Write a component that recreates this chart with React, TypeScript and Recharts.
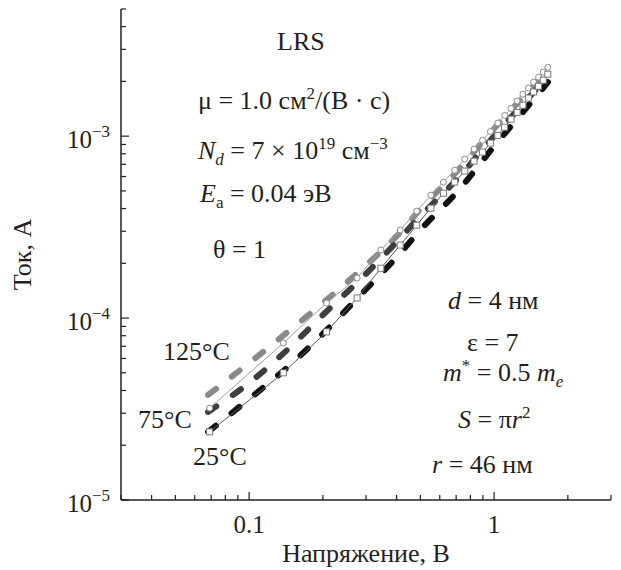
import React from 'react';
import { LineChart, Line, XAxis, YAxis } from 'recharts';

// measured points (linear voltage steps), V
const measuredV = [
  0.069, 0.138, 0.207, 0.276, 0.345, 0.414, 0.483, 0.552, 0.621, 0.69, 0.759, 0.828,
  0.897, 0.966, 1.035, 1.104, 1.173, 1.242, 1.311, 1.38, 1.449, 1.518, 1.587, 1.656,
];
// open circles
const circleI = [
  3.2e-5, 7.3e-5, 1.21e-4, 1.66e-4, 2.37e-4, 3.05e-4, 3.87e-4, 4.74e-4, 5.59e-4, 6.5e-4, 7.48e-4, 8.49e-4,
  9.5e-4, 1.06e-3, 1.18e-3, 1.3e-3, 1.42e-3, 1.56e-3, 1.7e-3, 1.84e-3, 1.98e-3, 2.11e-3, 2.25e-3, 2.39e-3,
];
// open squares
const squareI = [
  2.37e-5, 5.0e-5, 8.4e-5, 1.29e-4, 1.88e-4, 2.52e-4, 3.24e-4, 4.02e-4, 4.86e-4, 5.59e-4, 6.43e-4, 7.29e-4,
  8.17e-4, 9.16e-4, 1.01e-3, 1.12e-3, 1.24e-3, 1.35e-3, 1.48e-3, 1.62e-3, 1.75e-3, 1.88e-3, 2.03e-3, 2.19e-3,
];

// model curves (thick dashed)
const modelV = [0.068, 0.1, 0.15, 0.2, 0.3, 0.4, 0.5, 0.7, 1.0, 1.3, 1.66];
const model125 = [3.78e-5, 5.66e-5, 8.8e-5, 1.21e-4, 1.95e-4, 2.82e-4, 3.97e-4, 6.34e-4, 1.1e-3, 1.62e-3, 2.31e-3];
const model75 = [3.05e-5, 4.4e-5, 7.1e-5, 1.04e-4, 1.75e-4, 2.62e-4, 3.63e-4, 5.73e-4, 1.0e-3, 1.48e-3, 2.14e-3];
const model25 = [2.37e-5, 3.59e-5, 5.66e-5, 8.2e-5, 1.44e-4, 2.16e-4, 3.05e-4, 4.87e-4, 8.8e-4, 1.34e-3, 1.98e-3];

const xTicks = [
  0.03, 0.04, 0.05, 0.06, 0.07, 0.08, 0.09, 0.1, 0.2, 0.3, 0.4, 0.5, 0.6, 0.7, 0.8, 0.9, 1, 2, 3,
];
const xMajor = [0.1, 1];
const xMajorLabels = ['0.1', '1'];

const yTicks = [
  1e-5, 2e-5, 3e-5, 4e-5, 5e-5, 6e-5, 7e-5, 8e-5, 9e-5,
  1e-4, 2e-4, 3e-4, 4e-4, 5e-4, 6e-4, 7e-4, 8e-4, 9e-4,
  1e-3, 2e-3, 3e-3, 4e-3, 5e-3,
];
const yMajor = [1e-5, 1e-4, 1e-3];
const yMajorExp = ['\u22125', '\u22124', '\u22123'];

const ink = '#231f20';
const serif = "'Liberation Serif', 'DejaVu Serif', 'Times New Roman', serif";
const txt = { fontFamily: serif, fontSize: 26, fill: ink };
const tickTxt = { fontFamily: serif, fontSize: 25, fill: ink };

const toPoints = (xs: number[], ys: number[]) => xs.map((v, k) => ({ v, i: ys[k] }));
const same = (a: number, b: number) => Math.abs(a - b) / b < 1e-6;

const XTick = (props: any) => {
  const { x, y, payload } = props;
  const idx = xMajor.findIndex((m) => same(payload.value, m));
  const major = idx >= 0;
  return (
    <g>
      <line x1={x} y1={y} x2={x} y2={y - (major ? 8 : 5)} stroke={ink} strokeWidth={1.2} />
      {major && (
        <text x={x} y={y + 33} textAnchor="middle" style={tickTxt}>
          {xMajorLabels[idx]}
        </text>
      )}
    </g>
  );
};

const YTick = (props: any) => {
  const { x, y, payload } = props;
  const idx = yMajor.findIndex((m) => same(payload.value, m));
  const major = idx >= 0;
  return (
    <g>
      <line x1={x} y1={y} x2={x + (major ? 8 : 5)} y2={y} stroke={ink} strokeWidth={1.2} />
      {major && (
        <text x={x - 11} y={y + 12} textAnchor="end" style={tickTxt}>
          10
          <tspan dy={-11} style={{ fontSize: 17 }}>{yMajorExp[idx]}</tspan>
        </text>
      )}
    </g>
  );
};

const SquareDot = (props: any) => {
  const { cx, cy, index } = props;
  if (cx == null || cy == null) return <g key={index} />;
  return <rect key={index} x={cx - 3} y={cy - 3} width={6} height={6} fill="#fff" stroke="#7a7a7a" strokeWidth={1} />;
};

const Sup = ({ children }: { children: React.ReactNode }) => (
  <tspan dy={-10} style={{ fontSize: 17 }}>{children}</tspan>
);
const Sub = ({ children, italic }: { children: React.ReactNode; italic?: boolean }) => (
  <tspan dy={6} style={{ fontSize: 17, fontStyle: italic ? 'italic' : 'normal' }}>{children}</tspan>
);
const It = ({ children }: { children: React.ReactNode }) => (
  <tspan style={{ fontStyle: 'italic' }}>{children}</tspan>
);

const Notes = () => (
  <svg width={621} height={570} style={{ position: 'absolute', left: 0, top: 0, pointerEvents: 'none' }}>
    <g style={txt}>
      <text x={277} y={50}>LRS</text>
      <text x={198} y={109}>
        {'\u03bc = 1.0 \u0441\u043c'}
        <Sup>2</Sup>
        <tspan dy={10}>{'/(\u0412 \u00b7 \u0441)'}</tspan>
      </text>
      <text x={198} y={159}>
        <It>N</It>
        <Sub italic>d</Sub>
        <tspan dy={-6}>{' = 7 \u00d7 10'}</tspan>
        <Sup>19</Sup>
        <tspan dy={10}>{' \u0441\u043c'}</tspan>
        <Sup>{'\u22123'}</Sup>
      </text>
      <text x={200} y={202}>
        <It>E</It>
        <Sub>a</Sub>
        <tspan dy={-6}>{' = 0.04 \u044d\u0412'}</tspan>
      </text>
      <text x={213} y={258}>{'\u03b8 = 1'}</text>

      <text x={448} y={309}>
        <It>d</It>
        <tspan>{' = 4 \u043d\u043c'}</tspan>
      </text>
      <text x={467} y={351}>{'\u03b5 = 7'}</text>
      <text x={443} y={381}>
        <It>m</It>
        <Sup>*</Sup>
        <tspan dy={10}>{' = 0.5 '}</tspan>
        <It>m</It>
        <Sub italic>e</Sub>
      </text>
      <text x={458} y={428}>
        <It>S</It>
        <tspan>{' = \u03c0'}</tspan>
        <It>r</It>
        <Sup>2</Sup>
      </text>
      <text x={432} y={473}>
        <It>r</It>
        <tspan>{' = 46 \u043d\u043c'}</tspan>
      </text>

      <text x={163} y={360}>{'125\u00b0C'}</text>
      <text x={138} y={428}>{'75\u00b0C'}</text>
      <text x={193} y={465}>{'25\u00b0C'}</text>
    </g>
  </svg>
);

const dashStyle = { strokeWidth: 6, strokeDasharray: '10 20', strokeLinecap: 'round' as const };

export default function App() {
  return (
    <div style={{ position: 'absolute', left: 0, top: 0, width: 621, height: 570, background: '#fff', fontFamily: serif }}>
      <LineChart width={621} height={570} margin={{ top: 9, right: 10, left: 0, bottom: 0 }}>
        <XAxis
          dataKey="v"
          type="number"
          scale="log"
          domain={[0.03, 3]}
          allowDataOverflow
          ticks={xTicks}
          interval={0}
          tick={<XTick />}
          tickSize={0}
          tickMargin={0}
          tickLine={false}
          height={70}
          axisLine={{ stroke: ink, strokeWidth: 1.5 }}
          label={{ value: 'Напряжение, В', position: 'insideBottom', offset: 8, style: txt }}
        />
        <YAxis
          dataKey="i"
          type="number"
          scale="log"
          domain={[1e-5, 5e-3]}
          allowDataOverflow
          ticks={yTicks}
          interval={0}
          tick={<YTick />}
          tickSize={0}
          tickMargin={0}
          tickLine={false}
          width={121}
          axisLine={{ stroke: ink, strokeWidth: 1.5 }}
          label={{ value: 'Ток, А', angle: -90, position: 'insideLeft', offset: 22, style: { ...txt, textAnchor: 'middle' } }}
        />
        <Line data={toPoints(modelV, model125)} dataKey="i" type="monotone" stroke="#8a8a8a" {...dashStyle} dot={false} isAnimationActive={false} />
        <Line data={toPoints(modelV, model75)} dataKey="i" type="monotone" stroke="#3e3e3e" {...dashStyle} dot={false} isAnimationActive={false} />
        <Line data={toPoints(modelV, model25)} dataKey="i" type="monotone" stroke="#111111" {...dashStyle} dot={false} isAnimationActive={false} />
        <Line
          data={toPoints(measuredV, circleI)}
          dataKey="i"
          type="linear"
          stroke="#a0a0a0"
          strokeWidth={1}
          dot={{ r: 3, fill: '#fff', stroke: '#8c8c8c', strokeWidth: 1 }}
          isAnimationActive={false}
        />
        <Line
          data={toPoints(measuredV, squareI)}
          dataKey="i"
          type="linear"
          stroke="#5a5a5a"
          strokeWidth={1}
          dot={<SquareDot />}
          isAnimationActive={false}
        />
      </LineChart>
      <Notes />
    </div>
  );
}
